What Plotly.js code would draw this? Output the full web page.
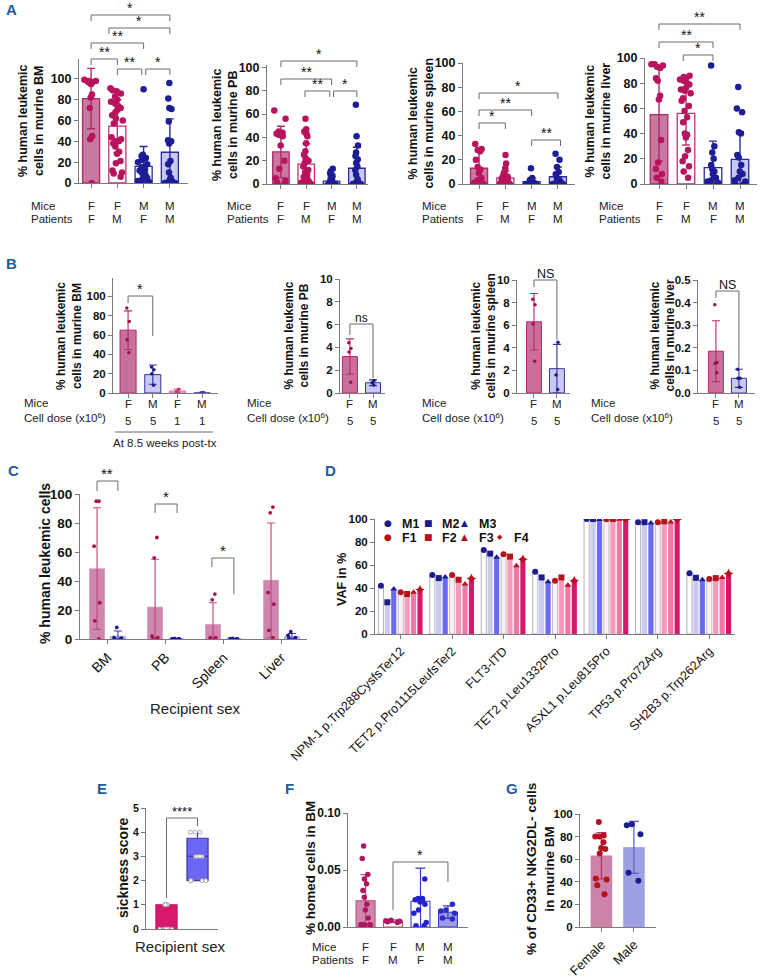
<!DOCTYPE html>
<html><head><meta charset="utf-8">
<script src="https://cdn.plot.ly/plotly-3.0.1.min.js"></script>
<style>html,body{margin:0;padding:0;background:#fff}#chart{width:760px;height:979px}</style>
</head><body><div id="chart"></div>
<script>
// ================= DATA =================
// Panel A
const aCats = ['FF','FM','MF','MM'];
const aMice = ['F','F','M','M'];
const aPatients = ['F','M','F','M'];
const aBMMean = [81, 54.5, 16, 29.5];
const aBMSd = [29, 25.5, 19, 32];
const aBM_FF = [99,98,98,97,97,96,96,95,85,82,72,45,42,0];
const aBM_FM = [91,89,88,86,83,80,78,76,74,72,70,68,65,62,60,57,44,42,40,40,38,35,30,28,21,19,12,10,9,6];
const aBM_MF = [90,27,26,25,24,22,20,18,15,13,12,10,8,6,5,3,2,1,0,0];
const aBM_MM = [96,81,72,71,59,41,40,38,21,18,10,5,3,2,1,0,0,0,0];

const aPBMean = [27.5, 17, 2.5, 13.5];
const aPBSd = [22, 17.5, 3.5, 18];
const aPB_FF = [63,56,45,44,43,42,41,33,20,13,5,3,1,0];
const aPB_FM = [56,47,45,44,43,41,35,28,25,22,20,18,15,12,10,8,6,5,4,3,2,1,1,0,0,0];
const aPB_MF = [13,11,9,7,5,4,3,2,1,1,0,0,0,0,0,0];
const aPB_MM = [68,41,33,27,24,21,18,15,12,8,4,2,1,0,0,0,0,0];

const aSpMean = [13, 5, 2, 6];
const aSpSd = [14, 6, 3, 8];
const aSp_FF = [33,29,28,27,20,14,12,9,5,3,1,0,0,0];
const aSp_FM = [24,17,13,10,8,7,6,5,5,4,4,3,3,2,2,1,1,1,0,0,0,0];
const aSp_MF = [13,5,3,2,2,1,1,0,0,0,0,0];
const aSp_MM = [25,20,14,10,8,5,4,3,2,1,0,0,0,0];

const aLiMean = [55, 56, 13, 19.5];
const aLiSd = [37, 25, 21, 22];
const aLi_FF = [95,95,94,93,92,84,82,70,67,35,17,12,8,5,2];
const aLi_FM = [86,85,84,83,82,80,79,76,75,75,74,72,68,66,62,58,53,49,40,39,37,27,22,18,14,10,5];
const aLi_MF = [94,30,25,20,15,12,10,8,5,3,2,1,0,0];
const aLi_MM = [77,60,57,41,40,23,21,15,10,8,5,3,2,0,0];

// Panel B
const bCats = ['F5','M5','F1','M1'];
const bMice = ['F','M','F','M'];
const bDose = ['5','5','1','1'];
const bBMMean = [65, 19, 2, 0.3];
const bBMSd = [20, 10, 2, 0.3];
const bBM_pts = [[88,74,55,42],[27,24,20,8],[4,1.5,0.5],[0.5,0.3,0.1]];
const bPBMean = [3.2, 0.9];
const bPBSd = [1.55, 0.25];
const bPB_pts = [[4.4,3.9,3.6,0.95],[1.1,0.9,0.7]];
const bSpMean = [6.3, 2.15];
const bSpSd = [2.5, 2.15];
const bSp_pts = [[8.3,7.8,6.1,2.8],[4.5,1.6,0.3]];
const bLiMean = [0.185, 0.065];
const bLiSd = [0.135, 0.04];
const bLi_pts = [[0.39,0.135,0.13,0.09],[0.105,0.065,0.065,0.025]];

// Panel C
const cOrgans = ['BM','PB','Spleen','Liver'];
const cFMean = [48.5, 22, 10, 40.5];
const cFSd = [42, 33, 15, 39.5];
const cMMean = [2, 0.2, 0.2, 1.8];
const cMSd = [3.5, 0.1, 0.1, 2];
const cF_pts = [[95,95,64,25,12.5,0],[70,56,2,1,0,0],[31,27,1,1,0,0],[91,87,32,24,6,1]];
const cM_pts = [[8,1,0.5,0,0],[0.4,0.2,0.1,0.1,0],[0.4,0.2,0.1,0,0],[5,2.5,1,0.5,0]];

// Panel D
const dGenes = ['NPM-1 p.Trp288CysfsTer12','TET2 p.Pro1115LeufsTer2','FLT3-ITD','TET2 p.Leu1332Pro','ASXL1 p.Leu815Pro','TP53 p.Pro72Arg','SH2B3 p.Trp262Arg'];
const dSeries = ['M1','M2','M3','F1','F2','F3','F4'];
const dM1 = [42, 51.2, 73, 54.1, 100, 97.2, 52.9];
const dM2 = [27.6, 48.6, 69.9, 49.2, 100, 97.2, 48.9];
const dM3 = [39.1, 49.5, 66.7, 45.5, 99.5, 96.6, 47.2];
const dF1 = [36.3, 51.2, 69.3, 46.3, 99.8, 97.2, 47.8];
const dF2 = [34.8, 47.2, 67.3, 49.2, 100, 98, 48.6];
const dF3 = [36.3, 43.4, 59.3, 42.3, 99.8, 97.5, 49.2];
const dF4 = [38.6, 48.3, 65, 46.3, 99.8, 99.5, 52.6];

// Panel E
const eCats = ['Female','Male'];
const eFemale = [0,0,0,0,0,0,0,1,1,1,1,1];
const eMale = [2,2,2,2,3,3,3,3,4,4,4];

// Panel F
const fCats = ['FF','FM','MF','MM'];
const fMice = ['F','F','M','M'];
const fPatients = ['F','M','F','M'];
const fMean = [0.023, 0.005, 0.0226, 0.013];
const fSd = [0.023, 0.0012, 0.029, 0.0055];
const f_FF = [0.071,0.060,0.046,0.042,0.038,0.032,0.026,0.020,0.015,0.008,0.002,0.002,0.002,0.002,0.002];
const f_FM = [0.006,0.0055,0.005,0.0045,0.004];
const f_MF = [0.042,0.025,0.025,0.024,0.024,0.023,0.022,0.020,0.015,0.012,0.004,0.001,0.001];
const f_MM = [0.020,0.015,0.014,0.012,0.008,0.007];

// Panel G
const gCats = ['Female','Male'];
const gMean = [63, 70.5];
const gSd = [20.5, 23];
const gFemale = [93,81,80,80,75,70,69,65,43,42,37,29];
const gMale = [91,90,82,48,41];

// ================= HELPERS =================
const W = 760, H = 979;
const FONT = 'Arial, "Liberation Sans", Helvetica, sans-serif';
const AXC = '#7a7a7a';
const BRC = '#6a6a6a';
const px = v => v / W;
const py = v => 1 - v / H;
const layout = {
  width: W, height: H, margin: {l:0, r:0, t:0, b:0},
  paper_bgcolor: '#fff', plot_bgcolor: 'rgba(0,0,0,0)',
  showlegend: false, barmode: 'overlay', boxmode: 'overlay',
  font: {family: FONT, color: '#111'},
  annotations: [], shapes: []
};
const data = [];
let nAx = 0;
function makeAxes(o) {
  nAx++;
  const s = nAx === 1 ? '' : String(nAx);
  const xid = 'x' + s, yid = 'y' + s;
  layout['xaxis' + s] = {
    domain: [px(o.x0), px(o.x1)], anchor: yid, type: 'category',
    categoryorder: 'array', categoryarray: o.cats, range: o.xr,
    showline: true, linecolor: AXC, linewidth: 1,
    ticks: o.xticks === false ? '' : 'outside', ticklen: 4, tickcolor: AXC,
    showticklabels: !!o.xlab, tickangle: o.xangle || 0,
    tickfont: {family: FONT, size: o.xfs || 13, color: '#111'},
    showgrid: false, zeroline: false, fixedrange: true
  };
  layout['yaxis' + s] = {
    domain: [py(o.y1), py(o.y0)], anchor: xid, range: o.yr, dtick: o.dtick, tick0: 0,
    tickformat: o.tf || '', showline: true, linecolor: AXC, linewidth: 1,
    ticks: 'outside', ticklen: 4, tickcolor: AXC,
    tickfont: {family: FONT, size: o.yfs || 12, color: '#111', weight: 'bold'},
    showgrid: false, zeroline: false, fixedrange: true
  };
  return {x: xid, y: yid};
}
function bars(ax, cats, mean, sd, styles, w, lw, opts) {
  opts = opts || {};
  cats.forEach((c, i) => {
    const st = styles[i];
    const tr = {type: 'bar', x: [c], y: [mean[i]], width: w, xaxis: ax.x, yaxis: ax.y,
      marker: {color: st.fill, line: {color: st.line, width: lw}},
      error_y: {type: 'data', array: [sd[i]], visible: true, color: st.err || st.line,
        thickness: opts.et || 1.3, width: opts.ew || 4},
      hoverinfo: 'skip'};
    if (opts.offset !== undefined) tr.offset = opts.offset;
    data.push(tr);
  });
}
function pts(ax, cats, vals, color, size, bw, jitter, pointpos, symbol, mline) {
  data.push({type: 'box', x: vals.map((v, i) => Array.isArray(cats) ? cats[i] : cats), y: vals,
    xaxis: ax.x, yaxis: ax.y, width: bw, boxpoints: 'all', jitter: jitter, pointpos: pointpos || 0,
    fillcolor: 'rgba(0,0,0,0)', line: {width: 0, color: 'rgba(0,0,0,0)'}, whiskerwidth: 0,
    marker: {color: color, size: size, symbol: symbol || 'circle', line: mline || {width: 0}},
    hoverinfo: 'skip'});
}
function bracket(ax, i0, i1, yl, l0, l1, txt, fs) {
  const L = {color: BRC, width: 1};
  layout.shapes.push({type: 'line', xref: ax.x, yref: 'paper', x0: i0, x1: i1, y0: py(yl), y1: py(yl), line: L});
  layout.shapes.push({type: 'line', xref: ax.x, yref: 'paper', x0: i0, x1: i0, y0: py(yl), y1: py(l0), line: L});
  layout.shapes.push({type: 'line', xref: ax.x, yref: 'paper', x0: i1, x1: i1, y0: py(yl), y1: py(l1), line: L});
  layout.annotations.push({xref: ax.x, yref: 'paper', x: (i0 + i1) / 2, y: py(yl), yanchor: 'bottom',
    xanchor: 'center', yshift: -3, text: txt, showarrow: false, font: {family: FONT, size: fs || 14, color: '#111'}});
}
function text(x, y, t, size, opts) {
  opts = opts || {};
  layout.annotations.push(Object.assign({xref: 'paper', yref: 'paper', x: px(x), y: py(y), text: t,
    showarrow: false, xanchor: 'left', yanchor: 'middle', font: {family: FONT, size: size, color: '#222'}}, opts));
}
function axText(ax, i, y, t, size, h) {
  const a = {xref: ax.x, yref: 'paper', x: i, y: py(y), text: t, showarrow: false,
    xanchor: 'center', yanchor: 'middle', font: {family: FONT, size: size, color: '#222'}};
  if (h) a.height = h;
  layout.annotations.push(a);
}
function ytitle(x, y, t, size) {
  layout.annotations.push({xref: 'paper', yref: 'paper', x: px(x), y: py(y), text: '<b>' + t + '</b>',
    textangle: -90, showarrow: false, xanchor: 'center', yanchor: 'middle',
    font: {family: FONT, size: size, color: '#111'}});
}
function letter(x, y, t) {
  text(x, y, '<b>' + t + '</b>', 15, {font: {family: FONT, size: 15, color: '#1f5c9c'}});
}

// ================= PANEL A =================
const PINK = '#b8145e', NAVY = '#1d1d96';
const A_STYLE = [
  {fill: '#c9789f', line: '#b02a68'},
  {fill: '#ffffff', line: '#c03272'},
  {fill: '#ffffff', line: '#2b2b99'},
  {fill: '#c8c8f4', line: '#2b2b99'}];
const A_PANELS = [
  {x0: 79, x1: 188, y0: 59, y1: 183, xr: [-0.46, 3.69], yr: [0, 119], mean: aBMMean, sd: aBMSd,
   pts: [aBM_FF, aBM_FM, aBM_MF, aBM_MM], title: '% human leukemic<br>cells in murine BM', tx: 31, ty: 121, rowX: 29,
   br: [[0, 3, 15, '*'], [0.68, 3, 28, '*'], [0, 2, 43, '**'], [0, 1, 59, '**'], [1, 1.93, 69, '**'], [2.08, 3, 69, '*']]},
  {x0: 267, x1: 368, y0: 65, y1: 184, xr: [-0.55, 3.44], yr: [0, 102], mean: aPBMean, sd: aPBSd,
   pts: [aPB_FF, aPB_FM, aPB_MF, aPB_MM], title: '% human leukemic<br>cells in murine PB', tx: 225, ty: 124, rowX: 225,
   br: [[0, 3, 61, '*'], [0, 2, 79, '**'], [0.95, 1.93, 91, '**'], [2.08, 3, 91, '*']]},
  {x0: 463, x1: 575, y0: 63, y1: 184, xr: [-0.61, 3.65], yr: [0, 100], mean: aSpMean, sd: aSpSd,
   pts: [aSp_FF, aSp_FM, aSp_MF, aSp_MM], title: '% human leukemic<br>cells in murine spleen', tx: 420.5, ty: 123, rowX: 420,
   br: [[0, 3, 93, '*'], [0, 2, 110, '**'], [0, 1, 123, '*'], [2, 3.1, 140, '**']]},
  {x0: 645, x1: 757, y0: 58, y1: 184, xr: [-0.52, 3.63], yr: [0, 100], mean: aLiMean, sd: aLiSd,
   pts: [aLi_FF, aLi_FM, aLi_MF, aLi_MM], title: '% human leukemic<br>cells in murine liver', tx: 597.5, ty: 121, rowX: 597,
   br: [[0, 3, 24, '**'], [0, 2, 42, '**'], [0.9, 2, 55, '*']]}
];
letter(4, 10, 'A');
A_PANELS.forEach(p => {
  const ax = makeAxes({x0: p.x0, x1: p.x1, y0: p.y0, y1: p.y1, xr: p.xr, yr: p.yr, cats: aCats, dtick: 20, yfs: 12.5});
  bars(ax, aCats, p.mean, p.sd, A_STYLE, 0.65, 1.3, {et: 1.4, ew: 4});
  aCats.forEach((c, i) => pts(ax, c, p.pts[i], i < 2 ? PINK : NAVY, 6.5, 0.68, 0.85));
  p.br.forEach(b => bracket(ax, b[0], b[1], b[2], b[2] + 6, b[2] + 6, b[3], 14));
  ytitle(p.tx, p.ty, p.title, 12.5);
  text(p.rowX, 206.5, 'Mice', 11.5, {height: 12});
  text(p.rowX, 219, 'Patients', 11.5, {height: 12});
  aCats.forEach((c, i) => { axText(ax, i, 206.5, aMice[i], 11.5, 12); axText(ax, i, 219, aPatients[i], 11.5, 12); });
});

// ================= PANEL B =================
letter(4, 263, 'B');
const B_STYLE = [
  {fill: '#c6709b', line: '#b52a6a', pt: '#9c1048'},
  {fill: '#c9c9f3', line: '#3030a0', pt: '#1a1a80'},
  {fill: '#f3c9da', line: '#d0609a', pt: '#c0407a'},
  {fill: '#d0d0f5', line: '#5050b0', pt: '#3a3aa0'}];
const B_PANELS = [
  {x0: 113, x1: 218, y0: 278, y1: 393, xr: [-0.61, 3.64], yr: [0, 119], dtick: 20, tf: '', cats: bCats, mean: bBMMean, sd: bBMSd, pts: bBM_pts,
   title: '% human leukemic<br>cells in murine BM', tx: 69, ty: 336, rowX: 22, br: [0, 1, 296, 303, 336, '*', 14]},
  {x0: 340, x1: 385, y0: 279, y1: 393, xr: [-0.43, 1.52], yr: [0, 10], dtick: 2, tf: '', cats: bCats.slice(0, 2), mean: bPBMean, sd: bPBSd, pts: bPB_pts,
   title: '% human leukemic<br>cells in murine PB', tx: 296.5, ty: 336, rowX: 245, br: [0, 1, 324, 335, 378, 'ns', 12]},
  {x0: 517, x1: 570, y0: 280, y1: 393, xr: [-0.74, 1.57], yr: [0, 10], dtick: 2, tf: '', cats: bCats.slice(0, 2), mean: bSpMean, sd: bSpSd, pts: bSp_pts,
   title: '% human leukemic<br>cells in murine spleen', tx: 483.5, ty: 336, rowX: 420, br: [0, 1, 280, 287, 340, 'NS', 12.5]},
  {x0: 698, x1: 755, y0: 280, y1: 393, xr: [-0.78, 1.7], yr: [0, 0.5], dtick: 0.1, tf: '.1f', cats: bCats.slice(0, 2), mean: bLiMean, sd: bLiSd, pts: bLi_pts,
   title: '% human leukemic<br>cells in murine liver', tx: 662.5, ty: 336, rowX: 589, br: [0, 1, 291, 298, 368, 'NS', 12.5]}
];
B_PANELS.forEach(p => {
  const ax = makeAxes({x0: p.x0, x1: p.x1, y0: p.y0, y1: p.y1, xr: p.xr, yr: p.yr, cats: p.cats, dtick: p.dtick, tf: p.tf, yfs: 11.5});
  bars(ax, p.cats, p.mean, p.sd, B_STYLE, 0.65, 1, {et: 1.1, ew: 4});
  p.cats.forEach((c, i) => pts(ax, c, p.pts[i], B_STYLE[i].pt, 3.5, 0.3, 0.4));
  const b = p.br;
  bracket(ax, b[0], b[1], b[2], b[3], b[4], b[5], b[6]);
  ytitle(p.tx, p.ty, p.title, 12);
  text(p.rowX, 402, 'Mice', 11.5, {height: 13});
  text(p.rowX, 418, 'Cell dose (x10<sup>6</sup>)', 11.5, {height: 15});
  p.cats.forEach((c, i) => { axText(ax, i, 403, bMice[i], 11.5, 13); axText(ax, i, 420, bDose[i], 11.5, 13); });
});
layout.shapes.push({type: 'line', xref: 'paper', yref: 'paper', x0: px(115), x1: px(213), y0: py(432), y1: py(432), line: {color: '#9a9a9a', width: 1.5}});
text(165, 443, 'At 8.5 weeks post-tx', 11.5, {xanchor: 'center'});

// ================= PANEL C =================
letter(6, 470, 'C');
{
  const ax = makeAxes({x0: 80, x1: 307, y0: 494, y1: 639, xr: [-0.474, 3.44], yr: [0, 100], cats: cOrgans, dtick: 20,
    yfs: 13.5, xlab: true, xangle: -45, xfs: 14});
  const fS = cOrgans.map(() => ({fill: '#cf88ad', line: '#cf88ad', err: '#c2457c'}));
  const mS = cOrgans.map(() => ({fill: '#c6c6f2', line: '#8080cc', err: '#3a3aa8'}));
  bars(ax, cOrgans, cFMean, cFSd, fS, 0.26, 0.5, {offset: -0.31, et: 1.1, ew: 4});
  bars(ax, cOrgans, cMMean, cMSd, mS, 0.26, 0.5, {offset: 0.05, et: 1.1, ew: 4});
  cOrgans.forEach((c, i) => {
    pts(ax, c, cF_pts[i], '#a8104f', 3.8, 0.2, 0.6, -1.8);
    pts(ax, c, cM_pts[i], '#1c1c8c', 3.8, 0.2, 0.8, 1.8);
  });
  bracket(ax, -0.18, 0.18, 481, 491, 491, '**', 15);
  bracket(ax, 0.82, 1.2, 504, 513, 513, '*', 15);
  bracket(ax, 1.8, 2.18, 558, 567, 594, '*', 15);
  ytitle(45, 564, '% human leukemic cells', 14);
  text(195, 708, 'Recipient sex', 15, {xanchor: 'center'});
}

// ================= PANEL D =================
letter(323, 470, 'D');
{
  const ax = makeAxes({x0: 375, x1: 735, y0: 519, y1: 634, xr: [-0.5, 6.5], yr: [0, 100], cats: dGenes, dtick: 20,
    yfs: 11.5, xlab: true, xangle: -45, xfs: 12.5});
  const dVals = [dM1, dM2, dM3, dF1, dF2, dF3, dF4];
  const D_STYLE = [
    {fill: '#ffffff', line: '#9a9aae', lw: 0.8, mc: '#1c1c8c', sym: 'circle', off: -0.385},
    {fill: '#c9c9f3', line: '#c9c9f3', lw: 0, mc: '#1c1c8c', sym: 'square', off: -0.26},
    {fill: '#6a6aee', line: '#6a6aee', lw: 0, mc: '#1c1c8c', sym: 'triangle-up', off: -0.135},
    {fill: '#fdf0f5', line: '#b8a8b0', lw: 0.8, mc: '#b5121b', sym: 'circle', off: 0.0},
    {fill: '#f59abb', line: '#f59abb', lw: 0, mc: '#b5121b', sym: 'square', off: 0.125},
    {fill: '#ef79a6', line: '#ef79a6', lw: 0, mc: '#b5121b', sym: 'triangle-up', off: 0.25},
    {fill: '#d6176c', line: '#d6176c', lw: 0, mc: '#b5121b', sym: 'star-diamond', off: 0.375}];
  const bw = 0.1;
  dSeries.forEach((s, k) => {
    const st = D_STYLE[k];
    data.push({type: 'bar', x: dGenes, y: dVals[k], offset: st.off - bw / 2, width: bw, xaxis: ax.x, yaxis: ax.y,
      marker: {color: st.fill, line: {color: st.line, width: st.lw}}, hoverinfo: 'skip'});
  });
  dSeries.forEach((s, k) => {
    const st = D_STYLE[k];
    pts(ax, dGenes, dVals[k], st.mc, st.sym === 'star-diamond' ? 7 : 6, 0.4, 0, st.off / 0.2, st.sym);
  });
  ytitle(342, 580, 'VAF in %', 12.5);
  const lg = [
    ['●', '#1c1c8c', 388, 523, 'M1', 400, 9], ['■', '#1c1c8c', 428, 523, 'M2', 440, 9], ['▲', '#1c1c8c', 465, 523, 'M3', 477, 9],
    ['●', '#b5121b', 388, 537, 'F1', 400, 9], ['■', '#b5121b', 428, 537, 'F2', 440, 9], ['▲', '#b5121b', 465, 537, 'F3', 477, 9],
    ['◆', '#b5121b', 500, 537, 'F4', 512, 7]];
  lg.forEach(l => {
    text(l[2], l[3], l[0], l[6], {xanchor: 'center', height: 12, font: {family: '"DejaVu Sans", ' + FONT, size: l[6], color: l[1]}});
    text(l[5], l[3], '<b>' + l[4] + '</b>', 12.5, {height: 13, font: {family: FONT, size: 12.5, color: '#111'}});
  });
}

// ================= PANEL E =================
letter(95, 788, 'E');
{
  const ax = makeAxes({x0: 146, x1: 218, y0: 808, y1: 929, xr: [-0.66, 1.66], yr: [0, 5], cats: eCats, dtick: 1,
    yfs: 10.5, xticks: false});
  const eSets = [[eFemale, '#d8186c', '#c41262'], [eMale, '#6c66f2', '#3b3ba6']];
  eSets.forEach((s, i) => {
    data.push({type: 'box', x: s[0].map(() => eCats[i]), y: s[0], xaxis: ax.x, yaxis: ax.y, width: 0.68,
      boxpoints: 'all', jitter: 1, pointpos: 0, fillcolor: s[1], line: {color: s[2], width: 1.2}, whiskerwidth: 0,
      marker: {color: 'rgba(255,255,255,0.95)', size: 4, symbol: 'circle', line: {color: '#8a8a8a', width: 0.7}},
      hoverinfo: 'skip'});
  });
  bracket(ax, 0, 1, 818, 898, 826, '****', 13);
  ytitle(123, 868, 'sickness score', 14);
  text(180, 946, 'Recipient sex', 15, {xanchor: 'center'});
}

// ================= PANEL F =================
letter(283, 788, 'F');
{
  const ax = makeAxes({x0: 348, x1: 468, y0: 813, y1: 927, xr: [-0.64, 3.73], yr: [0, 0.1], cats: fCats, dtick: 0.05, tf: '.2f',
    yfs: 12, xticks: false});
  const F_STYLE = [
    {fill: '#cf88ad', line: '#c0487f', pt: '#b01660'},
    {fill: '#ffffff', line: '#c0487f', pt: '#b01660'},
    {fill: '#ffffff', line: '#3a3ad0', pt: '#2222cc'},
    {fill: '#9c9ce6', line: '#3a3ac0', pt: '#2a2ac8'}];
  bars(ax, fCats, fMean, fSd, F_STYLE, 0.69, 1.1, {et: 1.2, ew: 5});
  const fP = [f_FF, f_FM, f_MF, f_MM];
  fCats.forEach((c, i) => pts(ax, c, fP[i], F_STYLE[i].pt, 5.5, 0.69, 0.9));
  bracket(ax, 1, 3, 862, 910, 882, '*', 14);
  ytitle(310, 868, '% homed cells in BM', 13.5);
  text(310, 947, 'Mice', 11.5, {height: 12});
  text(310, 960, 'Patients', 11.5, {height: 12});
  fCats.forEach((c, i) => { axText(ax, i, 947, fMice[i], 11.5, 12); axText(ax, i, 960, fPatients[i], 11.5, 12); });
}

// ================= PANEL G =================
letter(504, 788, 'G');
{
  const ax = makeAxes({x0: 580, x1: 656, y0: 814, y1: 927, xr: [-0.66, 1.68], yr: [0, 100], cats: gCats, dtick: 20,
    yfs: 11.5, xlab: true, xangle: -45, xfs: 13});
  const G_STYLE = [
    {fill: '#cd82a8', line: '#cd82a8', err: '#b5306d', pt: '#b3121e'},
    {fill: '#9ea0e2', line: '#9ea0e2', err: '#5a5ac8', pt: '#1c1c8c'}];
  bars(ax, gCats, gMean, gSd, G_STYLE, 0.65, 0.5, {et: 1.2, ew: 5});
  pts(ax, 'Female', gFemale, G_STYLE[0].pt, 6, 0.65, 0.8);
  pts(ax, 'Male', gMale, G_STYLE[1].pt, 6, 0.65, 0.8);
  ytitle(540, 869, '% of CD33+ NKG2DL- cells<br>in murine BM', 13.5);
}

Plotly.newPlot('chart', data, layout, {staticPlot: true, displayModeBar: false});
</script></body></html>
